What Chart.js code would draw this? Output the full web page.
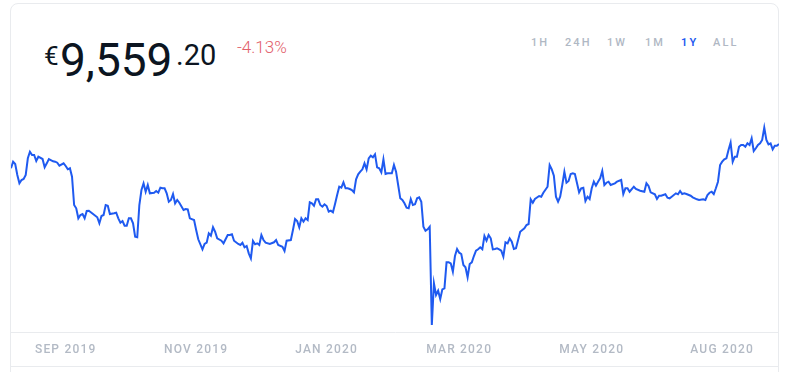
<!DOCTYPE html>
<html lang="en">
<head>
    <meta charset="UTF-8">
    <title>Price Chart</title>
    <style>
        body {
            margin: 0;
            background: #fff;
            font-family: 'Roboto', 'Noto Sans', Arial, sans-serif;
            position: relative;
            width: 787px;
            height: 372px;
            overflow: hidden;
        }
        .card {
            position: absolute;
            left: 10px;
            top: 3px;
            width: 767px;
            height: 420px;
            border: 1px solid #e9ebee;
            border-radius: 8px;
        }
        .txt { position: absolute; line-height: 1; white-space: nowrap; }
        .cur { left: 44px; top: 43px; font-size: 26px; color: #0c1521; }
        .int { left: 60px; top: 37px; font-size: 46px; color: #0c1521; }
        .dec { left: 176px; top: 41px; font-size: 29px; color: #0c1521; }
        .change { left: 237px; top: 39px; font-size: 17px; color: #e2616b; font-weight: 300; }
        .range {
            top: 37px;
            font-size: 11px;
            font-weight: 500;
            letter-spacing: 2.1px;
            color: #b0b8c4;
        }
        .range.active { color: #1f5af0; font-weight: 600; }
        .chart-box {
            position: absolute;
            left: 11px;
            top: 100px;
            width: 768px;
            height: 267px;
        }
        .foot-line {
            position: absolute;
            left: 11px;
            top: 366px;
            width: 768px;
            height: 1px;
            background: #e9ebee;
        }
    </style>
</head>
<body>
    <div class="card"></div>
    <span class="txt cur">€</span>
    <span class="txt int">9,559</span>
    <span class="txt dec">.20</span>
    <span class="txt change">-4.13%</span>
    <span class="txt range" style="left:531px">1H</span>
    <span class="txt range" style="left:565px">24H</span>
    <span class="txt range" style="left:607px">1W</span>
    <span class="txt range" style="left:645px">1M</span>
    <span class="txt range active" style="left:681px">1Y</span>
    <span class="txt range" style="left:713px">ALL</span>
    <div class="chart-box"><canvas id="priceChart"></canvas></div>
    <div class="foot-line"></div>

    <script src="https://cdn.jsdelivr.net/npm/chart.js"></script>
    <script>
    // day offsets (0 = late Aug 2019) and EUR prices
    const days = [
        0, 1, 2, 3, 4, 5, 6, 7, 8, 9, 10, 11, 12, 13, 15, 16, 17, 18, 20, 21, 22, 23, 25, 26, 27, 28, 29,
        30, 31, 32, 33, 34, 35, 36, 37, 39, 41, 42, 43, 44, 45, 46, 47, 49, 50, 51, 52, 53, 54, 55, 56, 57, 58, 59,
        60, 61, 62, 63, 64, 65, 66, 68, 69, 70, 71, 72, 73, 74, 75, 76, 77, 78, 79, 80, 82, 83, 84, 85, 87, 88, 89,
        91, 92, 93, 94, 95, 96, 97, 98, 100, 101, 103, 104, 105, 106, 108, 109, 110, 111, 112, 113, 114, 115, 116, 117, 118, 119,
        120, 121, 123, 125, 126, 127, 129, 130, 131, 133, 134, 135, 136, 137, 138, 139, 140, 141, 142, 143, 144, 145, 146, 147, 148, 149,
        150, 151, 152, 153, 154, 155, 156, 157, 158, 159, 160, 161, 162, 163, 164, 165, 166, 167, 168, 169, 170, 171, 172, 173, 174, 175, 176, 177, 178, 179,
        181, 182, 183, 184, 185, 186, 187, 188, 189, 190, 191, 192, 193, 194, 195, 196, 197, 198, 199,
        200, 201, 202, 203, 204, 205, 206, 207, 208, 209, 210, 211, 212, 213, 214, 215, 216, 217, 218, 219, 220, 221, 222, 223, 224, 225, 226, 227, 228, 229,
        230, 231, 232, 233, 234, 235, 236, 237, 238, 239, 240, 242, 243, 244, 245, 246, 247, 248, 249, 251, 252, 253, 255, 256, 257, 258, 259,
        260, 261, 262, 263, 264, 265, 266, 267, 268, 270, 271, 272, 273, 274, 275, 276, 277, 278, 279, 280, 281, 282, 283, 284, 285, 287, 288,
        290, 291, 292, 293, 294, 296, 297, 299, 301, 302, 303, 304, 306, 307, 308, 309, 311, 312, 313, 314, 316, 317, 318, 319,
        320, 321, 323, 324, 326, 327, 329, 330, 331, 332, 333, 334, 335, 336, 337, 338, 339, 340, 341, 342, 343, 344, 345, 346, 347, 348, 349,
        350, 351, 352, 353, 354, 355, 356, 357, 358, 359, 360, 361, 362, 363, 364, 365
    ];
    const prices = [
        8870, 9057, 8992, 8680, 8444, 8538, 8566, 8680, 9153, 9340, 9247, 9247, 9077, 9199, 9133, 8898, 9011, 9133, 9068, 9057, 9028, 8943, 9011, 8935, 8841, 8870, 8632,
        7829, 7736, 7452, 7546, 7574, 7452, 7659, 7668, 7574, 7481, 7310, 7517, 7546, 7829, 7809, 7574, 7594, 7611, 7452, 7327, 7376, 7242, 7242, 7452, 7452, 7310, 6931,
        6914, 7829, 8254, 8444, 8206, 8396, 8161, 8178, 8226, 8178, 8320, 8303, 8303, 8161, 7923, 7971, 8141, 7877, 7971, 7894, 7687, 7716, 7707, 7452, 7404, 7120, 6857,
        6573, 6724, 6760, 7027, 6959, 7197, 7072, 6885, 6817, 6743, 6979, 6979, 6999, 6817, 6724, 6695, 6760, 6630, 6667, 6460, 6318, 6809, 6715, 6743, 6695, 6979,
        6837, 6760, 6724, 6772, 6837, 6695, 6647, 6525, 6817, 6837, 7120, 7432, 7376, 7197, 7452, 7356, 7452, 7404, 7906, 7877, 7809, 7991, 7991, 7829, 7781, 7849,
        7801, 7639, 7668, 7622, 7858, 8113, 8348, 8320, 8473, 8303, 8303, 8283, 8254, 8189, 8558, 8700, 8773, 8841, 9011, 8841, 9153, 9227, 9182, 9267, 8898, 8870, 8756, 9125, 8708, 8728,
        8728, 8963, 8773, 8396, 8019, 7971, 7877, 7753, 7736, 7999, 7829, 7849, 8019, 8047, 7923, 7214, 7101, 7140, 7214,
        4427, 5609, 5278, 5400, 5164, 5439, 5468, 6205, 6205, 6176, 5938, 6383, 6582, 6477, 6440, 6128, 6063, 5780, 6157, 6205, 6383, 6534, 6573, 6630, 6573, 6950, 6817, 6979, 6885, 6573,
        6582, 6602, 6573, 6534, 6364, 6772, 6743, 6885, 6789, 6582, 6602, 7072, 7120, 7169, 7262, 7291, 7991, 7894, 7999, 8084, 8065, 8178, 8348, 8963, 8841, 8660, 8065,
        7923, 8065, 8396, 8773, 8461, 8510, 8708, 8728, 8708, 8189, 8303, 8320, 7943, 8065, 7999, 8303, 8490, 8376, 8490, 8586, 8793, 8396, 8461, 8490, 8396, 8444, 8490,
        8538, 8141, 8303, 8303, 8206, 8348, 8283, 8235, 8206, 8444, 8368, 8189, 8132, 7999, 8092, 8092, 8132, 8036, 8019, 8065, 8160, 8132, 8226, 8141,
        8160, 8141, 8092, 8047, 7991, 7971, 7991, 7971, 8113, 8178, 8206, 8141, 8303, 8490, 8963, 9057, 9125, 9153, 9388, 9596, 9057, 9199, 9199, 9482, 9530, 9530, 9482,
        9578, 9530, 9720, 9360, 9437, 9530, 9578, 9672, 10021, 9672, 9550, 9578, 9408, 9510, 9510, 9559
    ];
    const tickDays = [26, 88, 150, 213, 276, 338];
    const tickLabels = ['SEP 2019', 'NOV 2019', 'JAN 2020', 'MAR 2020', 'MAY 2020', 'AUG 2020'];
    const yMin = 4229;
    const yMax = 10806;

    // canvas letter spacing for the axis labels
    const spacing = {
        id: 'spacing',
        beforeDraw(chart) { chart.ctx.letterSpacing = '1.2px'; }
    };

    const ctx = document.getElementById('priceChart').getContext('2d');
    const priceChart = new Chart(ctx, {
        type: 'line',
        data: {
            datasets: [{
                data: days.map((d, i) => ({ x: d, y: prices[i] })),
                borderColor: '#1f5af0',
                borderWidth: 2,
                pointRadius: 0,
                tension: 0,
                fill: false
            }]
        },
        options: {
            responsive: true,
            maintainAspectRatio: false,
            animation: false,
            layout: { padding: 0 },
            plugins: {
                legend: { display: false },
                tooltip: { enabled: false }
            },
            scales: {
                x: {
                    type: 'linear',
                    min: 0,
                    max: 365,
                    grid: { display: false, drawTicks: false },
                    border: { display: true, color: '#e9ebee', width: 1 },
                    ticks: {
                        autoSkip: false,
                        maxRotation: 0,
                        padding: 11,
                        color: '#b3bac5',
                        font: { family: 'Roboto', size: 12, weight: '500' },
                        callback: (v, i) => tickLabels[i]
                    },
                    afterBuildTicks: s => { s.ticks = tickDays.map(v => ({ value: v })); },
                    afterFit: s => { s.height = 35; }
                },
                y: { display: false, min: yMin, max: yMax }
            }
        },
        plugins: [spacing]
    });
    </script>
</body>
</html>
